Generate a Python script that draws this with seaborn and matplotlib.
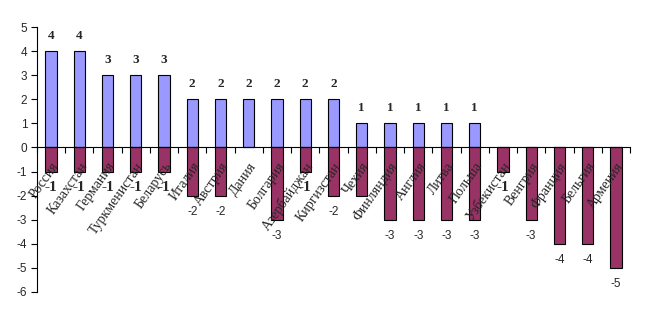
import matplotlib
matplotlib.use("Agg")
import matplotlib.pyplot as plt
import seaborn as sns
import numpy as np
import pandas as pd

countries = ["Россия", "Казахстан", "Германия", "Туркменистан", "Беларусь", "Италия",
             "Австрия", "Дания", "Болгария", "Азербайджан", "Киргизстан", "Чехия",
             "Финляндия", "Англия", "Литва", "Польша", "Узбекистан", "Венгрия",
             "Франция", "Бельгия", "Армения"]
positive = [4, 4, 3, 3, 3, 2, 2, 2, 2, 2, 2, 1, 1, 1, 1, 1, 0, 0, 0, 0, 0]
negative = [-1, -1, -1, -1, -1, -2, -2, 0, -3, -1, -2, -2, -3, -3, -3, -3, -1, -3, -4, -4, -5]
neg_shown = [True] * 21
neg_shown[11] = False  # label for Чехия not shown in the reference
y_ticks = list(range(-6, 6))

sns.set_style("white")
plt.rcParams['font.family'] = ['Liberation Serif', 'DejaVu Serif']

df = pd.DataFrame({"country": countries, "pos": positive, "neg": negative})

fig = plt.figure(figsize=(6.46, 3.19), dpi=100)
ax = fig.add_axes([37/646, (319-292)/319, (630-37)/646, (292-27)/319])

sns.barplot(data=df, x="country", y="pos", color="#9999FF", saturation=1,
            width=0.4, edgecolor="black", linewidth=0.8, ax=ax, order=countries)
sns.barplot(data=df, x="country", y="neg", color="#993366", saturation=1,
            width=0.4, edgecolor="black", linewidth=0.8, ax=ax, order=countries)

ax.set_xlim(-0.5, len(countries) - 0.5)
ax.set_ylim(-6, 5)
ax.set_yticks(y_ticks)
ax.set_yticklabels([str(t) for t in y_ticks], family='Liberation Sans', fontsize=8.5)
ax.set_xlabel("")
ax.set_ylabel("")

for s in ["top", "right"]:
    ax.spines[s].set_visible(False)
ax.spines["bottom"].set_position(("data", 0))
for s in ["left", "bottom"]:
    ax.spines[s].set_color("black")
    ax.spines[s].set_linewidth(0.8)
    ax.spines[s].set_zorder(6)

ax.tick_params(axis="y", direction="out", length=4, width=0.8, color="black", left=True, pad=3)
ax.set_xticks(range(len(countries)))
ax.set_xticks(np.arange(-0.5, len(countries), 1), minor=True)
ax.tick_params(axis="x", which="major", length=0, pad=9)
ax.tick_params(axis="x", which="minor", direction="out", length=4, width=0.8, color="black", bottom=True)
ax.set_xticklabels(countries, rotation=55, ha="right", va="top",
                   rotation_mode="anchor", fontsize=10)
ax.xaxis.set_zorder(10)
ax.yaxis.set_zorder(10)

for i, v in enumerate(positive):
    if v > 0:
        ax.annotate(str(v), (i, v), xytext=(0, 6.5), textcoords="offset points",
                    ha="center", va="bottom", fontsize=9.5, fontweight="bold")
for i, v in enumerate(negative):
    if v < 0 and neg_shown[i]:
        if v == -1:
            ax.annotate(str(v), (i, v), xytext=(0, -7), textcoords="offset points",
                        ha="center", va="top", fontsize=11, fontweight="bold",
                        family="Liberation Serif")
        else:
            ax.annotate(str(v), (i, v), xytext=(0, -7.5), textcoords="offset points",
                        ha="center", va="top", fontsize=8.5,
                        family="Liberation Sans")

fig.savefig("out.png", dpi=100)
